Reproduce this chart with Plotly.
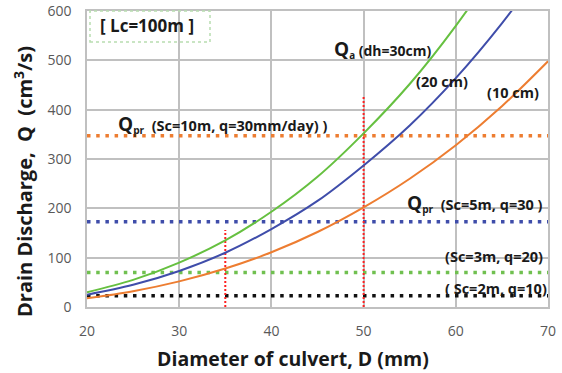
import plotly.graph_objects as go

# Data
D = [20, 25, 30, 35, 40, 45, 50, 55, 60, 65, 70]
Qa_30cm = [30, 55, 90, 135, 193, 264, 352, 452, 570, 705, 860]
Qa_20cm = [25, 45, 73, 110, 158, 215, 287, 368, 464, 575, 701]
Qa_10cm = [17.5, 32, 52, 78, 111, 152, 202, 260, 328, 407, 498]

Qpr_x = [20, 70]
Qpr_sc10 = 347
Qpr_sc5 = 173
Qpr_sc3 = 70
Qpr_sc2 = 23

mark_D = [35, 50]
mark_Qtop = [156, 428]

x_ticks = [20, 30, 40, 50, 60, 70]
y_ticks = [0, 100, 200, 300, 400, 500, 600]

GREEN = "#66C040"
BLUE = "#3F4DAA"
ORANGE = "#ED7D31"
RED = "#FF2020"

fig = go.Figure()

# horizontal dotted reference lines
for val, col in [(Qpr_sc10, ORANGE), (Qpr_sc5, BLUE), (Qpr_sc3, "#70C050"), (Qpr_sc2, "#111111")]:
    fig.add_trace(go.Scatter(x=Qpr_x, y=[val, val], mode="lines",
                             line=dict(color=col, width=3.5, dash="3.5px,5.7px"),
                             hoverinfo="skip", showlegend=False))

# vertical red dotted markers
for xd, qt in zip(mark_D, mark_Qtop):
    fig.add_trace(go.Scatter(x=[xd, xd], y=[0, qt], mode="lines",
                             line=dict(color=RED, width=2, dash="2px,2px"),
                             hoverinfo="skip", showlegend=False))

# curves
for ys, col in [(Qa_10cm, ORANGE), (Qa_20cm, BLUE), (Qa_30cm, GREEN)]:
    fig.add_trace(go.Scatter(x=D, y=ys, mode="lines", line=dict(color=col, width=2, shape="spline"),
                             showlegend=False))

FONT = "Open Sans, Noto Sans, sans-serif"
TXT = "#1a1a1a"

L, R, T, B = 87, 548, 11, 307
def px(xp):
    return (xp - L) / (R - L)
def py(yp):
    return (B - yp) / (B - T)

def ann(x, y, text, size=14.5, xanchor="left", textangle=0):
    fig.add_annotation(x=x, y=y, xref="paper", yref="paper", text=text, showarrow=False,
                       xanchor=xanchor, yanchor="middle", textangle=textangle,
                       font=dict(family=FONT, size=size, color=TXT))

QB = "<span style='font-size:19px'>Q</span>"
ann(px(332), py(49), "<b>" + QB + "<sub>a</sub> (dh=30cm)</b>", size=14)
ann(px(414), py(81), "<b>(20 cm)</b>")
ann(px(485), py(92), "<b>(10 cm)</b>")
ann(px(116), py(124), "<b>" + QB + "<sub>pr</sub>  (Sc=10m, q=30mm/day) )</b>")
ann(px(405), py(203), "<b>" + QB + "<sub>pr</sub>  (Sc=5m, q=30 )</b>")
ann(px(443), py(256), "<b>(Sc=3m, q=20)</b>")
ann(px(443), py(288), "<b>( Sc=2m, q=10)</b>")

# Lc box
fig.add_shape(type="rect", xref="paper", yref="paper", x0=px(90), x1=px(210), y0=py(42), y1=py(11),
              line=dict(color="#B8DDB0", width=1.5, dash="dot"), fillcolor="rgba(0,0,0,0)")
ann(px(147), py(26), "<b>[ Lc=100m ]</b>", size=17, xanchor="center")

# axis titles
ann(px(293), py(358), "<b>Diameter of culvert, D (mm)</b>", size=19.5, xanchor="center")
ann(px(24), py(182), "<b>Drain Discharge,  Q  (cm<sup>3</sup>/s)</b>", size=20, xanchor="center", textangle=-90)

fig.update_layout(
    width=562, height=373,
    margin=dict(l=L, r=562 - R, t=T, b=373 - B, autoexpand=False),
    paper_bgcolor="white", plot_bgcolor="white",
    font=dict(family=FONT, color="#595959", size=14),
    xaxis=dict(range=[20, 70], tickvals=x_ticks, showgrid=True, gridcolor="#C0C0C0", gridwidth=1.5,
               zeroline=False, showline=True, linecolor="#C0C0C0", linewidth=1.5, mirror=True,
               ticks="", ticklabelstandoff=10, automargin=False,
               tickfont=dict(size=14, color="#595959")),
    yaxis=dict(range=[0, 600], tickvals=y_ticks, showgrid=True, gridcolor="#C0C0C0", gridwidth=1.5,
               zeroline=False, showline=True, linecolor="#C0C0C0", linewidth=1.5, mirror=True,
               ticks="", ticklabelstandoff=11, automargin=False,
               tickfont=dict(size=14, color="#595959")),
)

fig.write_html("out.html")
